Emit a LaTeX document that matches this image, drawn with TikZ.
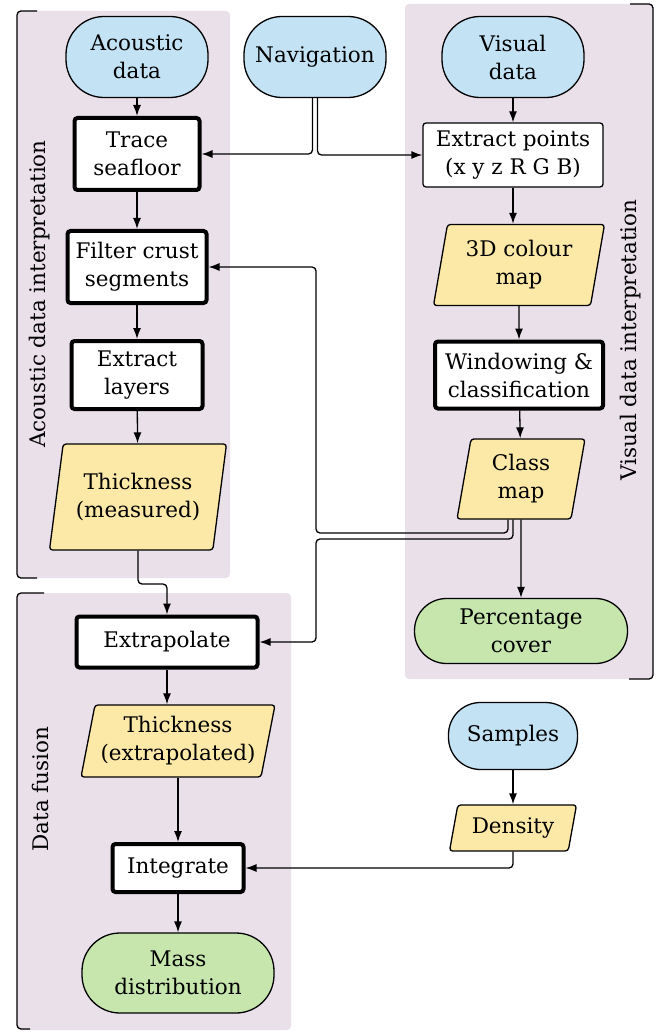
\documentclass[tikz,border=0pt]{standalone}
\usepackage{fontspec}
\setmainfont{DejaVu Serif}
\usetikzlibrary{shapes.geometric,arrows.meta}

\definecolor{inblue}{HTML}{C3E3F5}
\definecolor{datayellow}{HTML}{FDE9A7}
\definecolor{outgreen}{HTML}{C7E6AD}
\definecolor{panelpurple}{HTML}{EAE0EA}

\begin{document}
\begin{tikzpicture}[
									x = 1pt,
									y = 1pt,
									font = \fontsize{21.5}{28}\selectfont,
									term/.style = {
										draw,
										fill = inblue,
										line width = 1.3pt,
										rounded corners = 38pt,
										align = center,
										inner sep = 0,
										minimum width = 142pt,
										minimum height = 81pt
									},
									result/.style = {
										term,
										fill = outgreen
									},
									proc/.style = {
										draw,
										fill = white,
										line width = 4pt,
										rounded corners = 3pt,
										align = center,
										inner sep = 0
									},
									thinproc/.style = {
										proc,
										line width = 1.3pt
									},
									data/.style = {
										trapezium,
										trapezium left angle = 74,
										trapezium right angle = 106,
										trapezium stretches body,
										draw,
										fill = datayellow,
										line width = 1.3pt,
										rounded corners = 3pt,
										align = center,
										inner sep = 0
									},
									bracket/.style = {
										line width = 1.3pt,
										rounded corners = 4pt
									},
									arr/.style = {
										line width = 1.3pt,
										rounded corners = 4pt,
										-{Latex[length = 11pt, width = 8pt]}
									}
								]
							\useasboundingbox (0, 0) rectangle (663, -1032);

							% panels
							\fill [panelpurple, rounded corners = 4pt] (17, -11) rectangle (230, -578);
							\fill [panelpurple, rounded corners = 4pt] (17, -593) rectangle (291, -1030);
							\fill [panelpurple, rounded corners = 4pt] (405, -4) rectangle (653, -679);

							\draw [bracket] (37, -11) -- (17, -11) -- (17, -578) -- (37, -578);
							\draw [bracket] (44, -593) -- (17, -593) -- (17, -1029) -- (30, -1029);
							\draw [bracket] (630, -4) -- (653, -4) -- (653, -679) -- (629, -679);

							\node [rotate = 90] (acolabel) at (40, -294) {Acoustic data interpretation};
							\node [rotate = 90] (fuslabel) at (40, -789) {Data fusion};
							\node [rotate = 90] (vislabel) at (631, -340) {Visual data interpretation};

							% acoustic column
							\node [term] (acoustic) at (137, -57) {Acoustic\\data};
							\node [proc, minimum width = 125pt, minimum height = 72pt] (trace) at (137, -154) {Trace\\seafloor};
							\node [proc, minimum width = 139pt, minimum height = 72pt] (filter) at (137, -267) {Filter crust\\segments};
							\node [proc, minimum width = 131pt, minimum height = 68pt] (layers) at (137, -375) {Extract\\layers};
							\node [data, minimum width = 177pt, minimum height = 106pt] (thickm) at (138, -497) {Thickness\\(measured)};

							% navigation
							\node [term] (nav) at (315, -57) {Navigation};

							% visual column
							\node [term] (visual) at (513, -57) {Visual\\data};
							\node [thinproc, minimum width = 180pt, minimum height = 64pt] (points) at (513, -155) {Extract points\\(x y z R G B)};
							\node [data, minimum width = 171pt, minimum height = 81pt] (colmap) at (519, -265) {3D colour\\map};
							\node [proc, minimum width = 168pt, minimum height = 67pt] (window) at (519, -375) {Windowing \&\\classification};
							\node [data, minimum width = 128pt, minimum height = 80pt] (classmap) at (521, -479) {Class\\map};
							\node [result, rounded corners = 32pt, minimum width = 213pt, minimum height = 65pt] (cover) at (521, -631) {Percentage\\cover};

							% fusion column
							\node [proc, minimum width = 181pt, minimum height = 51pt] (extrap) at (167, -642) {Extrapolate};
							\node [data, minimum width = 194pt, minimum height = 72pt] (thicke) at (178, -741) {Thickness\\(extrapolated)};
							\node [proc, minimum width = 131pt, minimum height = 48pt] (integ) at (178, -868) {Integrate};
							\node [result, minimum width = 192pt, minimum height = 80pt] (mass) at (178, -973) {Mass\\distribution};

							% samples
							\node [term, rounded corners = 32pt, minimum width = 129pt, minimum height = 67pt] (samples) at (513, -736) {Samples};
							\node [data, trapezium left angle = 68, trapezium right angle = 112, minimum width = 127pt, minimum height = 46pt] (density) at (513, -828) {Density};

							\coordinate (back1) at (316, -533);
							\coordinate (back2) at (316, -539);
							\coordinate (jog) at (138, -584);

							\draw [arr] (acoustic) -- (trace);
							\draw [arr] (trace) -- (filter);
							\draw [arr] (filter) -- (layers);
							\draw [arr] (layers) -- (thickm);
							\draw [arr] (thickm.south) -- (jog) -| (extrap.north);
							\draw [arr] (extrap.south) -- (extrap.south |- thicke.north);
							\draw [arr] (thicke) -- (integ);
							\draw [arr] (integ) -- (mass);

							\draw [arr] ([xshift = -2.5pt]nav.south) |- (trace.east);
							\draw [arr] ([xshift = 2.5pt]nav.south) |- (points.west);

							\draw [arr] (visual) -- (points);
							\draw [arr] (points.south) -- (points.south |- colmap.north);
							\draw [arr] (colmap) -- (window);
							\draw [arr] (window) -- (classmap);
							\draw [arr] (classmap) -- (cover);
							\draw [arr] ([xshift = -13pt]classmap.south) |- (back1) |- (filter.east);
							\draw [arr] ([xshift = -8pt]classmap.south) |- (back2) |- (extrap.east);

							\draw [arr] (samples) -- (density);
							\draw [arr] (density.south) |- (integ.east);
						\end{tikzpicture}
\end{document}
